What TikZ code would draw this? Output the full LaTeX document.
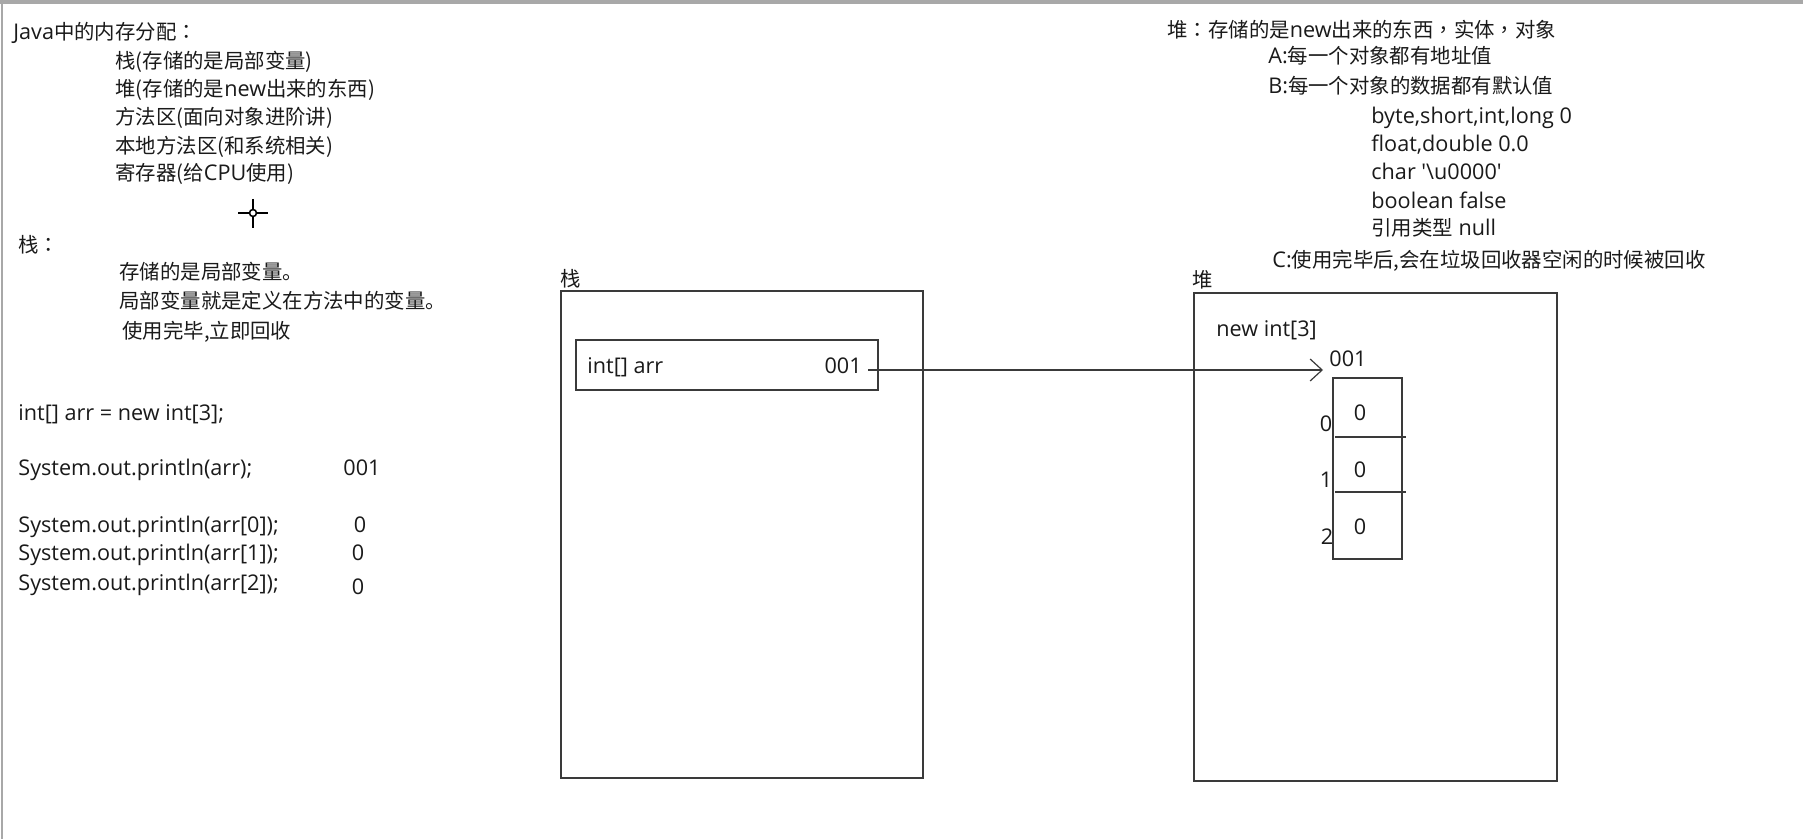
\documentclass[tikz,border=0pt]{standalone}
\usepackage{fontspec}
\setmainfont{Open Sans}[Scale=1.06]
\newfontfamily\cjk{Noto Sans CJK SC}
\newfontfamily\cjkpunct{Noto Sans CJK TC}
\usetikzlibrary{arrows.meta}
\newcommand\zh[1]{{\cjk #1}}
% full-width colon and comma set in the middle of their cell
\newcommand\fcolon{{\cjkpunct ：}}
\newcommand\fcomma{{\cjkpunct ，}}

\definecolor{ink}{HTML}{1A1A1A}
\definecolor{frame}{HTML}{3A3A3A}
\definecolor{edge}{HTML}{A8A8A8}

\tikzset{
  txt/.style={anchor=base west, inner sep=0pt, text=ink},
  txtr/.style={anchor=base east, inner sep=0pt, text=ink},
  txtc/.style={anchor=base, inner sep=0pt, text=ink},
  membox/.style={draw=frame, line width=0.9pt, anchor=north west, inner sep=0pt},
  divider/.style={draw=frame, line width=0.8pt},
  pointer/.style={draw=frame, line width=0.6pt, -{Straight Barb[length=6pt,width=11pt,line width=0.6pt]}},
}

\begin{document}
\begin{tikzpicture}[x=0.5pt, y=-0.5pt, font=\fontsize{10.2pt}{12pt}\selectfont]
\useasboundingbox (0,0) rectangle (1803,839);
\fill[white] (0,0) rectangle (1803,839);

% window edges
\fill[edge] (0,0) rectangle (1803,4);
\fill[edge] (1,0) rectangle (3,839);

% left column: memory areas
\node[txt] (title) at (13,40) {Java\zh{中的内存分配}\fcolon};
\node[txt] (m1) at (115,69) {\zh{栈(存储的是局部变量)}};
\node[txt] (m2) at (115,97) {\zh{堆(存储的是}new\zh{出来的东西)}};
\node[txt] (m3) at (115,125) {\zh{方法区(面向对象进阶讲)}};
\node[txt] (m4) at (115,154) {\zh{本地方法区(和系统相关)}};
\node[txt] (m5) at (115,181) {\zh{寄存器(给}CPU\zh{使用)}};

% crosshair cursor
\draw[line width=1.1pt, black] (238,213) -- (249,213) (257,213) -- (268,213)
      (253,199) -- (253,209) (253,217) -- (253,228);
\draw[line width=0.8pt, black, fill=white] (253,213) circle (3.5);

% stack notes
\node[txt] (sh) at (18,253) {\zh{栈}\fcolon};
\node[txt] (s1) at (119,280) {\zh{存储的是局部变量。}};
\node[txt] (s2) at (119,309) {\zh{局部变量就是定义在方法中的变量。}};
\node[txt] (s3) at (122,339) {\zh{使用完毕,立即回收}};

% code and printed values
\node[txt] (c0) at (18,420) {int[] arr = new int[3];};
\node[txt] (c1) at (18,475) {System.out.println(arr);};
\node[txt] (o1) at (343,475) {001};
\node[txt] (c2) at (18,532) {System.out.println(arr[0]);};
\node[txtc] (o2) at (360,532) {0};
\node[txt] (c3) at (18,560) {System.out.println(arr[1]);};
\node[txtc] (o3) at (358,560) {0};
\node[txt] (c4) at (18,590) {System.out.println(arr[2]);};
\node[txtc] (o4) at (358,594) {0};

% heap notes
\node[txt] (hh) at (1167,38) {\zh{堆}\fcolon\zh{存储的是}new\zh{出来的东西}\fcomma\zh{实体}\fcomma\zh{对象}};
\node[txt] (ha) at (1268,64) {A:\zh{每一个对象都有地址值}};
\node[txt] (hb) at (1268,94) {B:\zh{每一个对象的数据都有默认值}};
\node[txt] (d1) at (1371,124) {byte,short,int,long 0};
\node[txt] (d2) at (1371,152) {float,double 0.0};
\node[txt] (d3) at (1371,180) {char \textquotesingle\textbackslash u0000\textquotesingle};
\node[txt] (d4) at (1371,209) {boolean false};
\node[txt] (d5) at (1371,236) {\zh{引用类型} null};
\node[txt] (hc) at (1272,268) {C:\zh{使用完毕后,会在垃圾回收器空闲的时候被回收}};

% stack frame
\node[txt] (stacklbl) at (560,287) {\zh{栈}};
\node[membox, minimum width=181pt, minimum height=243.5pt] (stack) at (560,290) {};
\node[membox, minimum width=151pt, minimum height=25pt] (var) at (575,339) {};
\node[txt] (varname) at (587,373) {int[] arr};
\node[txtr] (varval) at (862,373) {001};

% heap frame
\node[txt] (heaplbl) at (1192,288) {\zh{堆}};
\node[membox, minimum width=181.5pt, minimum height=244pt] (heap) at (1193,292) {};
\node[txt] (newarr) at (1216,336) {new int[3]};
\node[txt] (addr) at (1329,367) {001};
\node[membox, minimum width=34.5pt, minimum height=90.5pt] (arr) at (1332,377) {};
\draw[divider] ([xshift=1.5pt,yshift=-30pt]arr.north west) -- ([xshift=1.5pt,yshift=-30pt]arr.north east);
\draw[divider] ([xshift=1.5pt,yshift=-57.5pt]arr.north west) -- ([xshift=1.5pt,yshift=-57.5pt]arr.north east);
\node[txtc] (v0) at (1360,421) {0};
\node[txtc] (v1) at (1360,477) {0};
\node[txtc] (v2) at (1360,534) {0};
\node[txtc] (i0) at (1326,431) {0};
\node[txtc] (i1) at (1326,487) {1};
\node[txtc] (i2) at (1327,544) {2};

% reference from the variable to the array
\coordinate (tip) at (1323,370);
\draw[pointer] ([xshift=3pt]varval.east |- tip) -- (tip);
\end{tikzpicture}
\end{document}
